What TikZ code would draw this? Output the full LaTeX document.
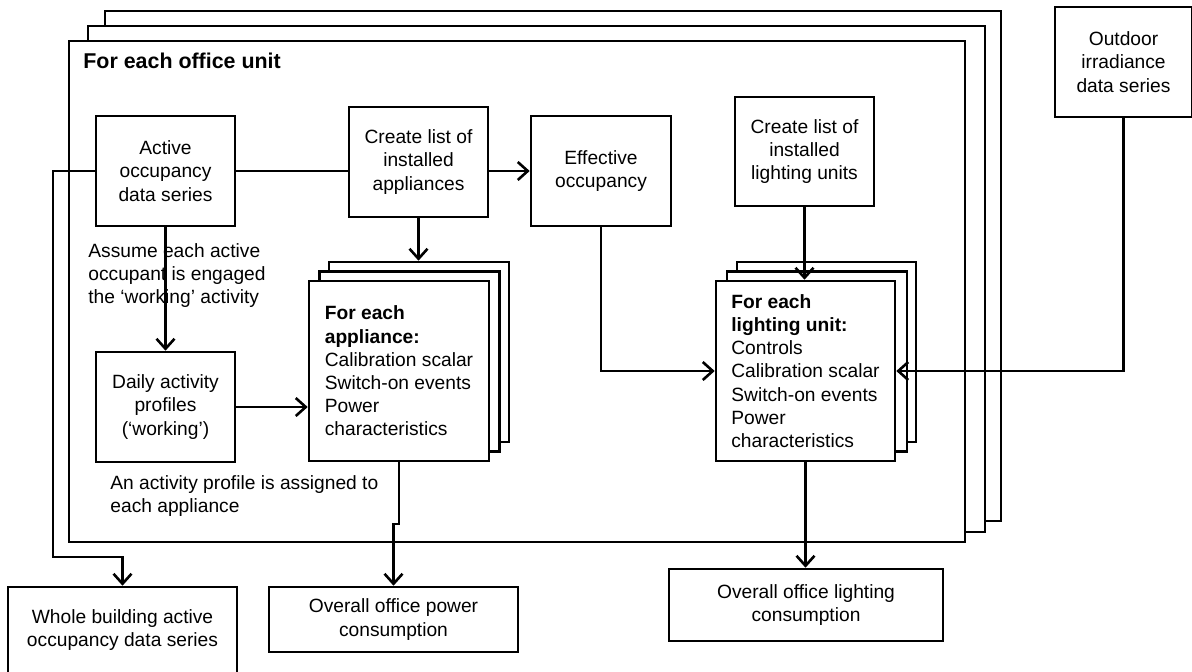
\documentclass[tikz,border=0pt]{standalone}
\usepackage{fontspec}
\setmainfont{Liberation Sans}
\usetikzlibrary{arrows.meta}
\begin{document}
\begin{tikzpicture}[x=0.5pt,y=-0.5pt,
  every node/.style={font=\fontsize{9.6}{11.6}\selectfont},
  frame/.style={draw,fill=white,line width=1.3pt},
  box/.style={draw,fill=white,line width=1.3pt,inner sep=0pt,align=center},
  stackbox/.style={draw,fill=white,line width=1.3pt,inner sep=0pt,align=left},
  note/.style={inner sep=0pt,align=left,font=\fontsize{9.6}{11.5}\selectfont},
  arr/.style={line width=1.3pt,-{Straight Barb[length=5pt,width=9pt,line width=1.3pt]}},
  conn/.style={line width=1.3pt}]
\useasboundingbox (0,0) rectangle (1192,671);
% office unit frames (stack)
\draw[frame] (105,11) rectangle (1001,521);
\draw[frame] (88,26) rectangle (985,532);
\draw[frame] (69,41) rectangle (965,542);
\node[inner sep=0pt,anchor=west,font=\fontsize{10.7}{13}\selectfont\bfseries] (hdr) at (83,61) {For each office unit};
% boxes
\node[box,minimum width=69.5pt,minimum height=55pt] (act) at (165.5,171) {Active\\occupancy\\data series};
\node[box,minimum width=69.5pt,minimum height=55pt] (apl) at (418.5,162) {Create list of\\installed\\appliances};
\node[box,minimum width=70pt,minimum height=55pt] (eff) at (601,171) {Effective\\occupancy};
\node[box,minimum width=69.5pt,minimum height=54.5pt] (lgl) at (804.5,151.5) {Create list of\\installed\\lighting units};
\node[box,minimum width=68.5pt,minimum height=55pt] (out) at (1123.5,62) {Outdoor\\irradiance\\data series};
\node[box,minimum width=69.5pt,minimum height=55pt] (daily) at (165.5,407) {Daily activity\\profiles\\(‘working’)};
% appliance stack
\node[stackbox,minimum width=90pt,minimum height=90pt] (ap3) at (419,352) {};
\node[stackbox,minimum width=90pt,minimum height=90pt] (ap2) at (409.5,361.5) {};
\node[stackbox,minimum width=90pt,minimum height=90pt] (ap1) at (399,371) {\textbf{For each}\\\textbf{appliance:}\\Calibration scalar\\Switch-on events\\Power\\characteristics};
% lighting stack
\node[stackbox,minimum width=89.5pt,minimum height=90pt] (lt3) at (826.5,352) {};
\node[stackbox,minimum width=90pt,minimum height=90pt] (lt2) at (817,361.5) {};
\node[stackbox,minimum width=89.5pt,minimum height=90pt] (lt1) at (805.5,371) {\textbf{For each}\\\textbf{lighting unit:}\\Controls\\Calibration scalar\\Switch-on events\\Power\\characteristics};
% bottom boxes
\node[box,minimum width=114.5pt,minimum height=43pt] (whole) at (122.5,630) {Whole building active\\occupancy data series};
\node[box,minimum width=124.5pt,minimum height=32.5pt] (power) at (393.5,619.5) {Overall office power\\consumption};
\node[box,minimum width=137pt,minimum height=36pt] (light) at (806,605) {Overall office lighting\\consumption};
% notes
\node[note,anchor=west] (n1) at (88,276) {Assume each active\\occupant is engaged\\the ‘working’ activity};
\node[note,anchor=west] (n2) at (110,496) {An activity profile is assigned to\\each appliance};
% connectors
\draw[conn] (act.east) -- (apl.west |- act.east);
\draw[arr] (apl.east |- act.east) -- (eff.west);
\draw[arr] (act.west) -| (53,557) -| (whole.north);
\draw[arr] (act.south) -- (daily.north);
\draw[arr] (daily.east) -- (ap1.west |- daily.east);
\draw[arr] (apl.south) -- (apl.south |- ap3.north);
\draw[arr] (ap1.south) -- (ap1.south |- 0,524) -- (power.north |- 0,524) -- (power.north);
\draw[arr] (eff.south) |- (lt1.west);
\draw[arr] (out.south) |- (lt1.east);
\draw[arr] (lgl.south) -- (lgl.south |- lt1.north);
\draw[arr] (lt1.south) -- (lt1.south |- light.north);
\end{tikzpicture}
\end{document}
